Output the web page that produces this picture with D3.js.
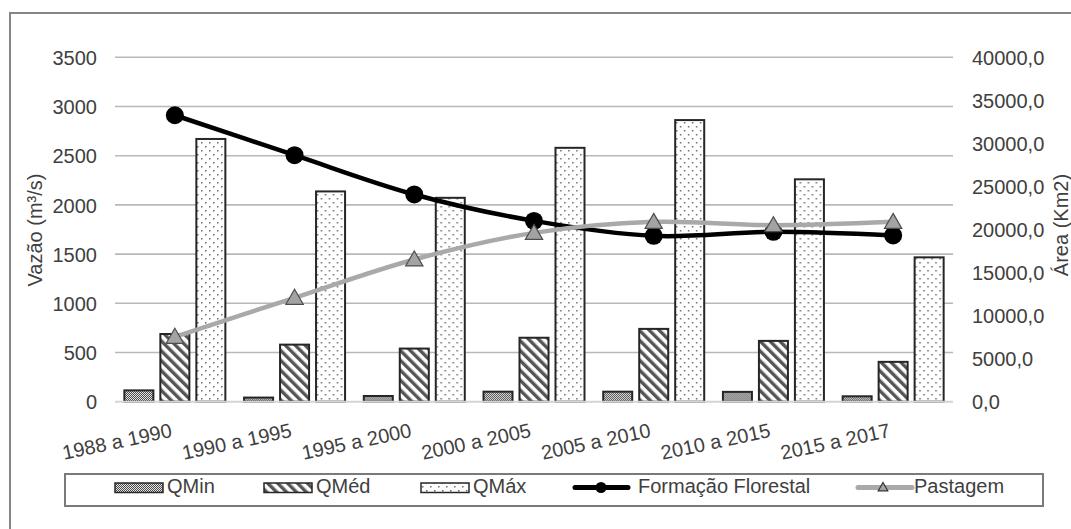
<!DOCTYPE html>
<html>
<head>
<meta charset="utf-8">
<script src="https://cdn.jsdelivr.net/npm/d3@7"></script>
<style>
  html, body { margin: 0; padding: 0; background: #fff; }
  svg { display: block; }
  text { font-family: "Liberation Sans", Arial, sans-serif; fill: #404040; }
</style>
</head>
<body>
<svg id="chart" width="1071" height="529"></svg>
<script>
// ---- Data ----
const categories = ["1988 a 1990", "1990 a 1995", "1995 a 2000", "2000 a 2005", "2005 a 2010", "2010 a 2015", "2015 a 2017"];
const qMin = [115, 42, 58, 102, 102, 100, 55];
const qMed = [688, 580, 540, 650, 740, 618, 405];
const qMax = [2670, 2137, 2072, 2580, 2862, 2260, 1467];
const formacaoFlorestal = [33270, 28630, 24070, 21000, 19260, 19730, 19310];
const pastagem = [7540, 12070, 16520, 19610, 20890, 20500, 20890];
const leftTicks = [0, 500, 1000, 1500, 2000, 2500, 3000, 3500];
const rightTicks = [0, 5000, 10000, 15000, 20000, 25000, 30000, 35000, 40000];
const barSeries = ["QMin", "QMéd", "QMáx"];
const lineSeries = ["Formação Florestal", "Pastagem"];

// ---- Layout ----
const svg = d3.select("#chart");
const plotLeft = 115, plotRight = 953, plotTop = 57.3, plotBottom = 401.7;
const FONT = 20;

// outer frame
svg.append("rect").attr("x", 10).attr("y", 13).attr("width", 1100).attr("height", 600)
  .attr("fill", "none").attr("stroke", "#858585").attr("stroke-width", 2);

// patterns
const defs = svg.append("defs");
const pMin = defs.append("pattern").attr("id", "pMin").attr("patternUnits", "userSpaceOnUse")
  .attr("width", 2).attr("height", 2);
pMin.append("rect").attr("width", 2).attr("height", 2).attr("fill", "#e6e6e6");
pMin.append("rect").attr("x", 0).attr("y", 0).attr("width", 1).attr("height", 1).attr("fill", "#4a4a4a");
pMin.append("rect").attr("x", 1).attr("y", 1).attr("width", 1).attr("height", 1).attr("fill", "#4a4a4a");

const pMed = defs.append("pattern").attr("id", "pMed").attr("patternUnits", "userSpaceOnUse")
  .attr("width", 7).attr("height", 7).attr("patternTransform", "rotate(-45)");
pMed.append("rect").attr("width", 7).attr("height", 7).attr("fill", "#ffffff");
pMed.append("rect").attr("x", 0).attr("y", 0).attr("width", 3.4).attr("height", 7).attr("fill", "#555555");

const pMax = defs.append("pattern").attr("id", "pMax").attr("patternUnits", "userSpaceOnUse")
  .attr("width", 8).attr("height", 8);
pMax.append("rect").attr("width", 8).attr("height", 8).attr("fill", "#ffffff");
pMax.append("rect").attr("x", 2).attr("y", 2).attr("width", 1.5).attr("height", 1.5).attr("fill", "#6a6a6a");
pMax.append("rect").attr("x", 6).attr("y", 6).attr("width", 1.5).attr("height", 1.5).attr("fill", "#6a6a6a");

const fills = { "QMin": "url(#pMin)", "QMéd": "url(#pMed)", "QMáx": "url(#pMax)" };
const barData = { "QMin": qMin, "QMéd": qMed, "QMáx": qMax };

// scales
const x0 = d3.scaleBand().domain(categories).range([plotLeft, plotRight]).padding(0);
const x1 = d3.scaleBand().domain(barSeries).range([0, x0.bandwidth()]).paddingInner(0.194).paddingOuter(0.26);
const yL = d3.scaleLinear().domain([0, 3500]).range([plotBottom, plotTop]);
const yR = d3.scaleLinear().domain([0, 40000]).range([plotBottom, plotTop]);

// gridlines
svg.append("g").selectAll("line").data(leftTicks.filter(d => d > 0)).join("line")
  .attr("x1", plotLeft).attr("x2", plotRight)
  .attr("y1", d => yL(d)).attr("y2", d => yL(d))
  .attr("stroke", "#b8b8b8").attr("stroke-width", 1.6);

// left axis
const axL = d3.axisLeft(yL).tickValues(leftTicks).tickFormat(d3.format("d")).tickSize(0).tickPadding(18);
const gL = svg.append("g").attr("transform", `translate(${plotLeft},0)`).call(axL);
gL.select(".domain").remove();
gL.selectAll("text").attr("font-size", FONT).attr("font-family", "Liberation Sans, Arial, sans-serif")
  .attr("fill", "#404040").attr("dy", "0.36em");

// right axis
const fmtR = d => d3.format(".1f")(d).replace(".", ",");
const axR = d3.axisRight(yR).tickValues(rightTicks).tickFormat(fmtR).tickSize(0).tickPadding(972 - plotRight);
const gR = svg.append("g").attr("transform", `translate(${plotRight},0)`).call(axR);
gR.select(".domain").remove();
gR.selectAll("text").attr("font-size", FONT).attr("font-family", "Liberation Sans, Arial, sans-serif")
  .attr("fill", "#404040").attr("dy", "0.36em");

// bars
const groups = svg.append("g").selectAll("g").data(categories).join("g")
  .attr("transform", d => `translate(${x0(d)},0)`);
groups.selectAll("rect").data((c, i) => barSeries.map(s => ({ s, v: barData[s][i] }))).join("rect")
  .attr("x", d => x1(d.s)).attr("width", x1.bandwidth())
  .attr("y", d => yL(d.v)).attr("height", d => yL(0) - yL(d.v))
  .attr("fill", d => fills[d.s]).attr("stroke", "#262626").attr("stroke-width", 2);

// baseline
svg.append("line").attr("x1", plotLeft).attr("x2", plotRight)
  .attr("y1", yL(0)).attr("y2", yL(0)).attr("stroke", "#d4d4d4").attr("stroke-width", 2);

// x labels
const axB = d3.axisBottom(x0).tickSize(0).tickPadding(0);
const gB = svg.append("g").attr("transform", `translate(0,${plotBottom})`).call(axB);
gB.select(".domain").remove();
gB.selectAll("text").attr("font-size", FONT).attr("font-family", "Liberation Sans, Arial, sans-serif")
  .attr("fill", "#404040").attr("text-anchor", "end").attr("dy", null).attr("y", 0)
  .attr("transform", "translate(-2,35) rotate(-12)");

// lines
const cx = d => x0(d) + x0.bandwidth() / 2;
const lineGen = d3.line().curve(d3.curveCatmullRom.alpha(0.5));
const ptsF = categories.map((c, i) => [cx(c), yR(formacaoFlorestal[i])]);
const ptsP = categories.map((c, i) => [cx(c), yR(pastagem[i])]);

svg.append("path").attr("d", lineGen(ptsF)).attr("fill", "none")
  .attr("stroke", "#000").attr("stroke-width", 4.5).attr("stroke-linecap", "round");
svg.append("g").selectAll("circle").data(ptsF).join("circle")
  .attr("cx", d => d[0]).attr("cy", d => d[1]).attr("r", 9).attr("fill", "#000");

svg.append("path").attr("d", lineGen(ptsP)).attr("fill", "none")
  .attr("stroke", "#a9a9a9").attr("stroke-width", 4.5).attr("stroke-linecap", "round");
const tri = d3.symbol().type(d3.symbolTriangle).size(130);
svg.append("g").selectAll("path").data(ptsP).join("path")
  .attr("d", tri).attr("transform", d => `translate(${d[0]},${d[1] + 1.5})`)
  .attr("fill", "#a3a3a3").attr("stroke", "#4d4d4d").attr("stroke-width", 1.2);

// axis titles
svg.append("text").attr("transform", "translate(42,230) rotate(-90)")
  .attr("text-anchor", "middle").attr("font-size", FONT).text("Vazão (m³/s)");
svg.append("text").attr("transform", "translate(1068,225) rotate(-90)")
  .attr("text-anchor", "middle").attr("font-size", FONT).text("Área (Km2)");

// legend
const lg = svg.append("g");
lg.append("rect").attr("x", 65).attr("y", 474).attr("width", 978).attr("height", 32)
  .attr("fill", "#fff").attr("stroke", "#7a7a7a").attr("stroke-width", 2);
const barLegendX = [115, 264, 421];
barSeries.forEach((s, i) => {
  lg.append("rect").attr("x", barLegendX[i]).attr("y", 483).attr("width", 48).attr("height", 9.5)
    .attr("fill", fills[s]).attr("stroke", "#262626").attr("stroke-width", 1.5);
  lg.append("text").attr("x", barLegendX[i] + 52).attr("y", 492.5).attr("font-size", FONT).text(s);
});
// Formação Florestal
lg.append("line").attr("x1", 575).attr("x2", 628).attr("y1", 487.5).attr("y2", 487.5)
  .attr("stroke", "#000").attr("stroke-width", 5).attr("stroke-linecap", "round");
lg.append("circle").attr("cx", 601).attr("cy", 487.5).attr("r", 5.5).attr("fill", "#000");
lg.append("text").attr("x", 638).attr("y", 492.5).attr("font-size", FONT).text(lineSeries[0]);
// Pastagem
lg.append("line").attr("x1", 858).attr("x2", 912).attr("y1", 487.5).attr("y2", 487.5)
  .attr("stroke", "#a9a9a9").attr("stroke-width", 5).attr("stroke-linecap", "round");
lg.append("path").attr("d", d3.symbol().type(d3.symbolTriangle).size(40))
  .attr("transform", "translate(883,488)")
  .attr("fill", "#a3a3a3").attr("stroke", "#333").attr("stroke-width", 1.2);
lg.append("text").attr("x", 914).attr("y", 492.5).attr("font-size", FONT).text(lineSeries[1]);
</script>
</body>
</html>
